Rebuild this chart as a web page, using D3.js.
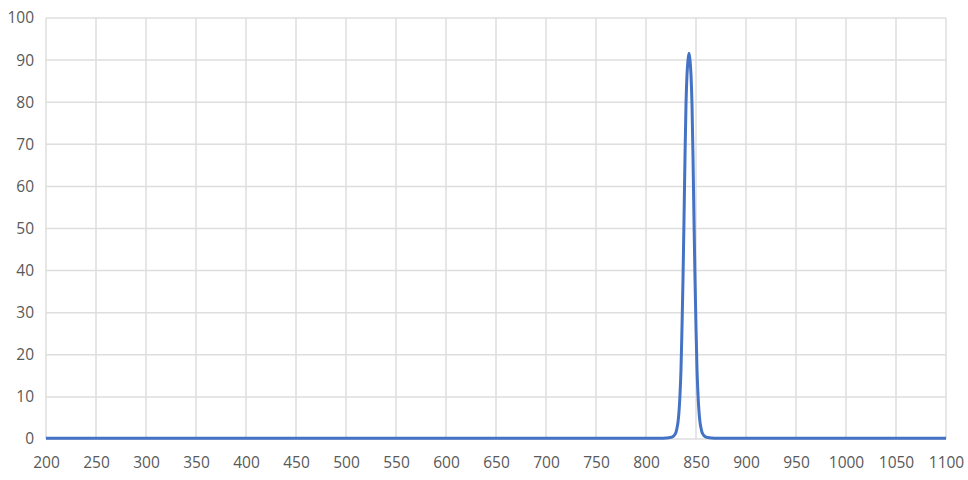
<!DOCTYPE html>
<html>
<head>
<meta charset="utf-8">
<script src="https://cdn.jsdelivr.net/npm/d3@7"></script>
<style>
html,body{margin:0;padding:0;background:#fff;}
svg{display:block;}
</style>
</head>
<body>
<svg id="chart" width="968" height="480"></svg>
<script>
const wavelengths = [200,300,400,500,600,700,800,815,820,824,827,829,830,831,832,833,834,835,836,837,838,839,840,841,842,843,844,845,846,847,848,849,850,851,852,853,854,855,856,857,859,862,866,870,900,1000,1100];
const transmission = [0.2,0.2,0.2,0.2,0.2,0.2,0.2,0.2,0.25,0.35,0.6,1.1,1.6,2.6,4.0,6.5,10.5,16.5,26.5,38,52,67,79.5,86.5,90,91.6,90,86.5,79.5,67,52,38,26.5,16.5,10.5,6.5,4.0,2.6,1.6,1.1,0.6,0.35,0.25,0.2,0.2,0.2,0.2];
const xTicks = [200,250,300,350,400,450,500,550,600,650,700,750,800,850,900,950,1000,1050,1100];
const yTicks = [0,10,20,30,40,50,60,70,80,90,100];

const svg = d3.select("#chart");
const margin = {left:46, right:22, top:18, bottom:41};
const W = 968, H = 480;
const x = d3.scaleLinear().domain([200,1100]).range([margin.left, W - margin.right]);
const y = d3.scaleLinear().domain([0,100]).range([H - margin.bottom, margin.top]);

const grid = svg.append("g");
grid.selectAll("line.v").data(xTicks).join("line")
  .attr("x1", d => x(d)).attr("x2", d => x(d))
  .attr("y1", y(0)).attr("y2", y(100))
  .attr("stroke", "#dedede").attr("stroke-width", 1.5);
grid.selectAll("line.h").data(yTicks).join("line")
  .attr("x1", x(200)).attr("x2", x(1100))
  .attr("y1", d => y(d)).attr("y2", d => y(d))
  .attr("stroke", "#dedede").attr("stroke-width", 1.5);

const font = "'Open Sans','Noto Sans',sans-serif";
const xAxis = d3.axisBottom(x).tickValues(xTicks).tickFormat(d3.format("d")).tickSize(0).tickPadding(18);
const gx = svg.append("g").attr("transform", `translate(0,${y(0)})`).call(xAxis);
gx.select(".domain").remove();
gx.selectAll("text").attr("fill", "#595959").style("font-size","15.5px").style("font-family",font);

const yAxis = d3.axisLeft(y).tickValues(yTicks).tickFormat(d3.format("d")).tickSize(0).tickPadding(12);
const gy = svg.append("g").attr("transform", `translate(${x(200)},0)`).call(yAxis);
gy.select(".domain").remove();
gy.selectAll("text").attr("fill", "#595959").style("font-size","15.5px").style("font-family",font);

const data = wavelengths.map((w,i) => ({w, v: transmission[i]}));
const line = d3.line().x(d => x(d.w)).y(d => y(d.v)).curve(d3.curveMonotoneX);
svg.append("path").datum(data)
  .attr("d", line)
  .attr("fill", "none")
  .attr("stroke", "#4472c4")
  .attr("stroke-width", 3)
  .attr("stroke-linejoin", "round");
</script>
</body>
</html>
